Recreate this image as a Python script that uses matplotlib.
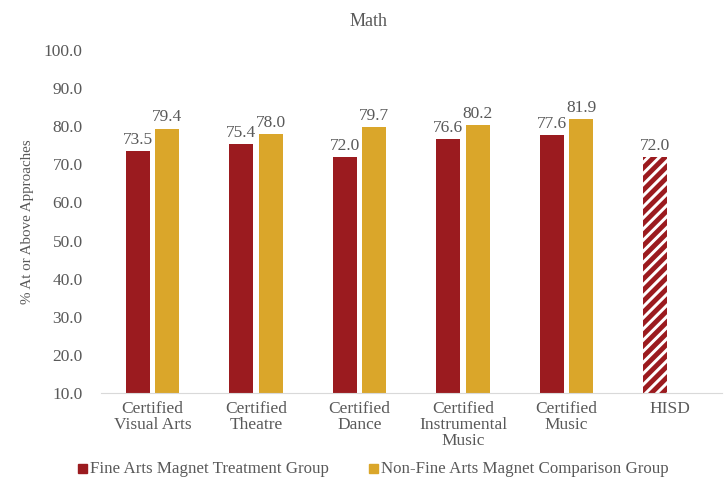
import numpy as np
import matplotlib.pyplot as plt

categories = ["Certified\nVisual Arts", "Certified\nTheatre", "Certified\nDance",
              "Certified\nInstrumental\nMusic", "Certified\nMusic", "HISD"]
treatment = [73.5, 75.4, 72.0, 76.6, 77.6, 72.0]
comparison = [79.4, 78.0, 79.7, 80.2, 81.9, None]
yticks = [10, 20, 30, 40, 50, 60, 70, 80, 90, 100]

red = "#9B1B1F"
gold = "#DAA62A"
grey = "#595959"

plt.rcParams['font.family'] = ['Liberation Serif', 'DejaVu Serif']
plt.rcParams['font.size'] = 12.5
plt.rcParams['hatch.linewidth'] = 3.5
plt.rcParams['hatch.color'] = red

fig = plt.figure(figsize=(7.27, 4.8), dpi=100)
ax = fig.add_axes([100.75 / 727, (480 - 393) / 480, 621 / 727, 343 / 480])

x = np.arange(len(categories))
w = 0.23
off = 0.1425

for i in range(len(categories)):
    t = treatment[i]
    c = comparison[i]
    if categories[i] == "HISD":
        # district average drawn with red stripes
        ax.bar(x[i] - off, t - 10, w, bottom=10, facecolor="white", edgecolor=red,
               hatch="///", linewidth=0)
    else:
        ax.bar(x[i] - off, t - 10, w, bottom=10, color=red)
    ax.text(x[i] - off, t + 0.8, f"{t:.1f}", ha="center", va="bottom", color=grey)
    if c is not None:
        ax.bar(x[i] + off, c - 10, w, bottom=10, color=gold)
        ax.text(x[i] + off, c + 0.8, f"{c:.1f}", ha="center", va="bottom", color=grey)

ax.set_ylim(10, 100)
ax.set_xlim(-0.5, len(categories) - 0.5)
ax.set_yticks(yticks)
ax.set_yticklabels([f"{v:.1f}" for v in yticks], color=grey)
ax.set_xticks(x)
ax.set_xticklabels(categories, color=grey, linespacing=1.0)
ax.tick_params(axis="x", length=0, pad=6)
ax.tick_params(axis="y", length=0, pad=13)
for s in ["top", "right", "left"]:
    ax.spines[s].set_visible(False)
ax.spines["bottom"].set_color("#D9D9D9")
ax.set_ylabel("% At or Above Approaches", color=grey, fontsize=10.8)
ax.yaxis.set_label_coords(-0.108, 0.5)

fig.text(0.507, 0.955, "Math", ha="center", va="center", color=grey, fontsize=13)

# legend
fig.patches.append(plt.Rectangle((78 / 727, 1 - 473 / 480), 9 / 727, 9 / 480,
                                 transform=fig.transFigure, color=red))
fig.text(90 / 727, 1 - 469 / 480, "Fine Arts Magnet Treatment Group", va="center",
         color=grey, fontsize=12.2)
fig.patches.append(plt.Rectangle((369 / 727, 1 - 473 / 480), 9 / 727, 9 / 480,
                                 transform=fig.transFigure, color=gold))
fig.text(381 / 727, 1 - 469 / 480, "Non-Fine Arts Magnet Comparison Group", va="center",
         color=grey, fontsize=12.2)

fig.savefig("out.png", dpi=100)
